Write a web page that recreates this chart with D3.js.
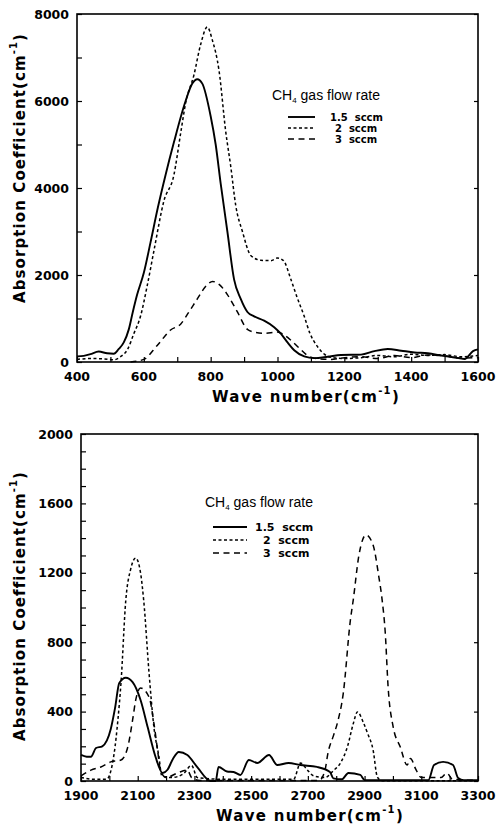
<!DOCTYPE html>
<html>
<head>
<meta charset="utf-8">
<script src="https://cdn.jsdelivr.net/npm/d3@7"></script>
<style>
  html, body { margin: 0; padding: 0; background: #fff; }
  svg { display: block; }
</style>
</head>
<body>
<svg id="chart" width="497" height="824"></svg>
<script>
// ---------------- DATA ----------------
const seriesNames = ["1.5  sccm", "2  sccm", "3  sccm"];
const legendTitle = "CH";
const legendTitleSub = "4";
const legendTitleRest = " gas flow rate";
const yTitle = "Absorption Coefficient(cm";
const xTitle = "Wave  number(cm";

// Top panel (400-1600 cm^-1)
const topXTicks = [400, 600, 800, 1000, 1200, 1400, 1600];
const topYTicks = [0, 2000, 4000, 6000, 8000];
const top15 = [[400,130],[420,140],[440,180],[465,240],[490,200],[510,190],[525,300],[540,450],[555,750],[567,1150],[580,1550],[600,2050],[620,2750],[642,3550],[665,4300],[690,5050],[725,6000],[745,6400],[760,6500],[775,6400],[800,5650],[815,5000],[830,4100],[850,3000],[870,1900],[890,1450],[910,1150],[930,1050],[960,950],[990,800],[1010,650],[1030,450],[1050,270],[1080,130],[1110,90],[1150,120],[1190,160],[1250,170],[1290,250],[1330,300],[1370,260],[1410,220],[1450,200],[1490,150],[1525,110],[1560,70],[1585,250],[1600,290]];
const top2 = [[400,60],[440,80],[480,70],[510,50],[530,120],[552,300],[570,650],[590,1050],[610,1750],[630,2550],[660,3700],[690,4300],[710,5250],[725,5950],[750,6600],[770,7300],[790,7700],[805,7400],[825,6700],[845,5300],[860,4500],[875,3600],[895,3000],[920,2450],[950,2340],[980,2330],[1000,2390],[1018,2330],[1040,1900],[1058,1500],[1080,1050],[1097,660],[1120,350],[1140,180],[1165,100],[1200,80],[1250,100],[1300,150],[1350,120],[1400,180],[1450,150],[1500,170],[1550,120],[1600,150]];
const top3 = [[560,0],[600,60],[640,380],[680,735],[710,870],[735,1150],[760,1450],[790,1780],[806,1850],[830,1750],[850,1550],[880,1150],[910,750],[935,680],[960,660],[1000,690],[1020,620],[1040,500],[1065,320],[1088,160],[1118,80],[1160,60],[1200,100],[1250,120],[1300,80],[1350,150],[1400,100],[1450,160],[1500,140],[1550,90],[1600,100]];

// Bottom panel (1900-3300 cm^-1)
const botXTicks = [1900, 2100, 2300, 2500, 2700, 2900, 3100, 3300];
const botYTicks = [0, 400, 800, 1200, 1600, 2000];
const bot15 = [[1900,150],[1920,140],[1935,140],[1953,190],[1975,200],[2005,300],[2020,420],[2035,565],[2058,595],[2082,570],[2110,467],[2135,311],[2163,138],[2188,46],[2205,65],[2225,130],[2245,167],[2275,150],[2310,80],[2357,0],[2375,0],[2385,81],[2415,55],[2438,52],[2462,35],[2492,121],[2522,104],[2563,150],[2592,92],[2632,104],[2673,92],[2732,81],[2778,52],[2790,15],[2820,10],[2843,46],[2885,35],[2900,5],[3125,5],[3145,92],[3177,110],[3212,92],[3230,17],[3250,5],[3300,5]];
const bot2 = [[1900,20],[1950,10],[1990,10],[2017,160],[2030,350],[2041,565],[2058,1043],[2075,1220],[2093,1285],[2110,1200],[2121,1043],[2140,622],[2157,311],[2175,138],[2185,30],[2220,20],[2260,40],[2290,90],[2310,20],[2400,10],[2650,10],[2674,104],[2700,60],[2720,30],[2760,20],[2790,60],[2815,104],[2840,200],[2860,330],[2875,398],[2895,340],[2910,277],[2930,179],[2945,23],[2960,2],[3300,2]];
const bot3 = [[1900,30],[1935,63],[1970,81],[2005,110],[2041,121],[2065,196],[2082,352],[2093,467],[2110,536],[2140,484],[2157,334],[2170,179],[2180,63],[2200,20],[2240,46],[2275,63],[2290,20],[2320,3],[2740,3],[2760,60],[2772,170],[2790,260],[2804,334],[2825,507],[2850,928],[2860,1043],[2880,1300],[2905,1418],[2930,1360],[2950,1180],[2962,1043],[2973,853],[2983,542],[3001,311],[3026,196],[3050,92],[3062,130],[3080,70],[3100,20],[3170,20],[3190,46],[3210,10],[3300,3]];

// ---------------- DRAW ----------------
const svg = d3.select("#chart");
const styles = [
  { dash: null, width: 1.9 },
  { dash: "3,2.5", width: 1.5 },
  { dash: "6,4.5", width: 1.5 }
];

function drawPanel(cfg) {
  const g = svg.append("g");
  const x = d3.scaleLinear().domain([cfg.xTicks[0], cfg.xTicks[cfg.xTicks.length - 1]]).range([cfg.left, cfg.right]);
  const y = d3.scaleLinear().domain([cfg.yTicks[0], cfg.yTicks[cfg.yTicks.length - 1]]).range([cfg.bottom, cfg.top]);

  // frame
  g.append("rect")
    .attr("x", cfg.left).attr("y", cfg.top)
    .attr("width", cfg.right - cfg.left).attr("height", cfg.bottom - cfg.top)
    .attr("fill", "none").attr("stroke", "#000").attr("stroke-width", 1.6);

  // bottom axis (inward ticks)
  const xMinor = d3.range(cfg.xTicks[0], cfg.xTicks[cfg.xTicks.length - 1] + 1, cfg.xMinorStep);
  const xAxis = d3.axisBottom(x).tickValues(xMinor).tickSize(-5).tickFormat(() => "");
  const gx = g.append("g").attr("transform", `translate(0,${cfg.bottom})`).call(xAxis);
  gx.select(".domain").remove();
  gx.selectAll(".tick line").attr("stroke", "#000").attr("stroke-width", 1.2);
  g.append("g").selectAll("text").data(cfg.xTicks).join("text")
    .attr("x", d => x(d)).attr("y", cfg.bottom + 19)
    .attr("text-anchor", "middle")
    .attr("font-family", "DejaVu Sans").attr("font-weight", "bold").attr("font-size", 12.5)
    .text(d => d);

  // left axis
  const yMinor = d3.range(cfg.yTicks[0], cfg.yTicks[cfg.yTicks.length - 1] + 1, cfg.yMinorStep);
  const yAxis = d3.axisLeft(y).tickValues(yMinor).tickSize(-5).tickFormat(() => "");
  const gy = g.append("g").attr("transform", `translate(${cfg.left},0)`).call(yAxis);
  gy.select(".domain").remove();
  gy.selectAll(".tick line").attr("stroke", "#000").attr("stroke-width", 1.2);
  const yAxisR = d3.axisRight(y).tickValues(cfg.yTicks).tickSize(-4).tickFormat(() => "");
  const gyr = g.append("g").attr("transform", `translate(${cfg.right},0)`).call(yAxisR);
  gyr.select(".domain").remove();
  gyr.selectAll(".tick line").attr("stroke", "#000").attr("stroke-width", 1.2);
  g.append("g").selectAll("text").data(cfg.yTicks).join("text")
    .attr("x", cfg.left - 8).attr("y", d => y(d)).attr("dy", "0.36em")
    .attr("text-anchor", "end")
    .attr("font-family", "DejaVu Sans").attr("font-weight", "bold").attr("font-size", 12.5)
    .text(d => d);

  // lines
  const line = d3.line().x(d => x(d[0])).y(d => y(d[1])).curve(d3.curveMonotoneX);
  cfg.series.forEach((s, i) => {
    g.append("path").datum(s)
      .attr("d", line)
      .attr("fill", "none").attr("stroke", "#000")
      .attr("stroke-width", styles[i].width)
      .attr("stroke-dasharray", styles[i].dash)
      .attr("stroke-linejoin", "round");
  });

  // axis titles
  const xt = g.append("text")
    .attr("x", cfg.xTitleX).attr("y", cfg.xTitleY)
    .attr("text-anchor", "middle")
    .attr("font-family", "DejaVu Sans").attr("font-weight", "bold").attr("font-size", 15)
    .attr("letter-spacing", 1.3);
  xt.append("tspan").text(xTitle);
  xt.append("tspan").attr("font-size", 10).attr("dy", -8).text("-1");
  xt.append("tspan").attr("dy", 8).text(")");

  const yt = g.append("text")
    .attr("transform", `translate(${cfg.yTitleX},${cfg.yTitleY}) rotate(-90)`)
    .attr("text-anchor", "middle")
    .attr("font-family", "DejaVu Sans").attr("font-weight", "bold").attr("font-size", 15)
    .attr("letter-spacing", 1.1);
  yt.append("tspan").text(yTitle);
  yt.append("tspan").attr("font-size", 10).attr("dy", -8).text("-1");
  yt.append("tspan").attr("dy", 8).text(")");

  // legend
  const lg = g.append("g");
  const lt = lg.append("text").attr("x", cfg.legX).attr("y", cfg.legY)
    .attr("font-family", "Liberation Sans").attr("font-size", 14);
  lt.append("tspan").text(legendTitle);
  lt.append("tspan").attr("font-size", 8).attr("dy", 3).text(legendTitleSub);
  lt.append("tspan").attr("dy", -3).text(legendTitleRest);
  seriesNames.forEach((name, i) => {
    const ry = cfg.legY + cfg.legRow0 + i * cfg.legRowStep;
    lg.append("line")
      .attr("x1", cfg.legLineX1).attr("x2", cfg.legLineX2)
      .attr("y1", ry).attr("y2", ry)
      .attr("stroke", "#000").attr("stroke-width", styles[i].width)
      .attr("stroke-dasharray", styles[i].dash);
    lg.append("text")
      .attr("x", cfg.legTextX + (i === 0 ? 0 : cfg.legNumShift)).attr("y", ry + cfg.legFont * 0.36)
      .attr("font-family", "DejaVu Sans").attr("font-weight", "bold").attr("font-size", cfg.legFont)
      .attr("xml:space", "preserve").style("white-space", "pre")
      .text(name);
  });
}

drawPanel({
  left: 77, right: 478, top: 14, bottom: 362,
  xTicks: topXTicks, yTicks: topYTicks, xMinorStep: 100, yMinorStep: 1000,
  series: [top15, top2, top3],
  xTitleX: 306, xTitleY: 402, yTitleX: 25, yTitleY: 168,
  legX: 272, legY: 100, legRow0: 17, legRowStep: 11, legFont: 10,
  legLineX1: 288, legLineX2: 315, legTextX: 330, legNumShift: 5
});

drawPanel({
  left: 81, right: 478, top: 434, bottom: 781,
  xTicks: botXTicks, yTicks: botYTicks, xMinorStep: 100, yMinorStep: 100,
  series: [bot15, bot2, bot3],
  xTitleX: 310, xTitleY: 821, yTitleX: 25, yTitleY: 606,
  legX: 205, legY: 507, legRow0: 20, legRowStep: 13, legFont: 11,
  legLineX1: 213, legLineX2: 247, legTextX: 255, legNumShift: 8
});
</script>
</body>
</html>
